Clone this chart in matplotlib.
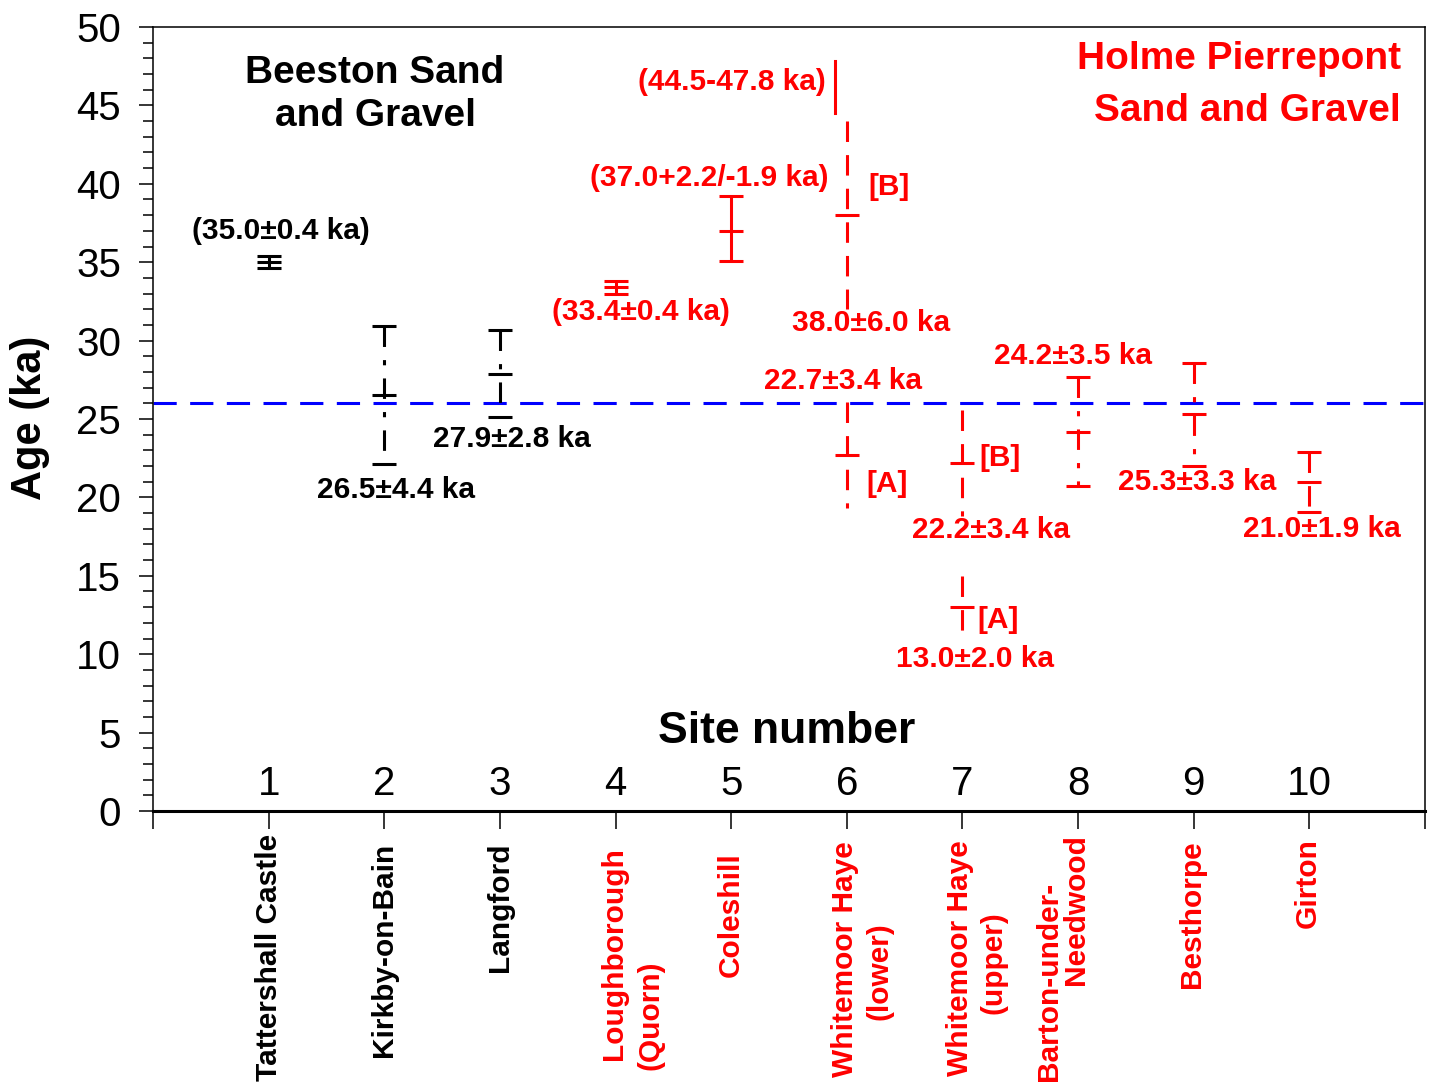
import matplotlib
matplotlib.use("Agg")
import matplotlib.pyplot as plt

plt.rcParams["font.family"] = ["Liberation Sans", "DejaVu Sans"]

# Sites along the x axis
sites = [1, 2, 3, 4, 5, 6, 7, 8, 9, 10]
site_names = ["Tattershall Castle", "Kirkby-on-Bain", "Langford", "Loughborough\n(Quorn)", "Coleshill",
              "Whitemoor Haye\n(lower)", "Whitemoor Haye\n(upper)", "Barton-under-\nNeedwood",
              "Besthorpe", "Girton"]
site_colors = ["black", "black", "black", "red", "red", "red", "red", "red", "red", "red"]

# Ages (ka) with lower / upper uncertainty
bar_site = [1, 2, 3, 4, 5, 6, 6, 7, 7, 8, 9, 10]
bar_age = [35.0, 26.5, 27.9, 33.4, 37.0, 38.0, 22.7, 22.2, 13.0, 24.2, 25.3, 21.0]
bar_err_lo = [0.4, 4.4, 2.8, 0.4, 1.9, 6.0, 3.4, 3.4, 2.0, 3.5, 3.3, 1.9]
bar_err_hi = [0.4, 4.4, 2.8, 0.4, 2.2, 6.0, 3.4, 3.4, 2.0, 3.5, 3.3, 1.9]
bar_tag = ["", "", "", "", "", "[B]", "[A]", "[B]", "[A]", "", "", ""]
bar_bracketed = [True, False, False, True, True, False, False, False, False, False, False, False]

# Age range given without central value (site 6)
range_site = 6
range_lo = 44.5
range_hi = 47.8

# Reference line
ref_age = 26.0

# Look of each bar
bar_caps = [True, True, True, True, True, False, False, False, False, True, True, True]
bar_ls = ["solid", "dashdot", "dashdot", "solid", "solid", "dashed", "dashed", "dashed", "dashed",
          "dashdot", "dashdot", "dashed"]
dash_styles = {"solid": "-", "dashdot": (0, (6.7, 4.3, 1.7, 4.3)), "dashed": (0, (6.7, 4.3))}
# label centres (x, y) in data units, tag left edges
label_xy = [(1.11, 37.0), (2.1, 20.5), (3.1, 23.7), (4.22, 31.8), (4.81, 40.4), (6.21, 31.1),
            (5.97, 27.4), (7.25, 17.9), (7.11, 9.7), (7.96, 29.0), (9.03, 21.0), (10.11, 18.0)]
tag_xy = {5: (6.19, 39.8), 6: (6.17, 20.85), 7: (7.15, 22.5), 8: (7.13, 12.2)}
# per-line placement of the site names: (dx px, top px)
name_layout = [[(0, 834)], [(0, 843)], [(0, 843)], [(-2, 847), (35, 961)], [(0, 852)],
               [(-2, 841), (33, 922)], [(-2, 840), (31, 911)], [(-29, 882), (-2, 834)],
               [(-2, 840)], [(-2, 838)]]

fig = plt.figure(figsize=(14.38, 10.9), dpi=100)
ax = fig.add_axes([153 / 1438, 279 / 1090, (1425 - 153) / 1438, (811 - 27) / 1090])

lw = 2.2
ax.axhline(ref_age, color="#0000ff", lw=lw, ls=(0, (7.6, 4.4)), zorder=1)

for i, x in enumerate(bar_site):
    col = site_colors[x - 1]
    lo = bar_age[i] - bar_err_lo[i]
    hi = bar_age[i] + bar_err_hi[i]
    ax.plot([x, x], [hi, lo], color=col, lw=lw, ls=dash_styles[bar_ls[i]], solid_capstyle="butt",
            dash_capstyle="butt", zorder=3)
    ax.plot([x], [bar_age[i]], color=col, marker="_", ms=17, mew=lw, zorder=3)
    if bar_caps[i]:
        ax.plot([x, x], [lo, hi], color=col, ls="none", marker="_", ms=17, mew=lw, zorder=3)
    if bar_err_lo[i] == bar_err_hi[i]:
        txt = f"{bar_age[i]:.1f}\u00b1{bar_err_lo[i]:.1f} ka"
    else:
        txt = f"{bar_age[i]:.1f}+{bar_err_hi[i]:.1f}/-{bar_err_lo[i]:.1f} ka"
    if bar_bracketed[i]:
        txt = "(" + txt + ")"
    ax.text(label_xy[i][0], label_xy[i][1], txt, color=col, fontsize=21.5, fontweight="bold",
            ha="center", va="center")
    if bar_tag[i]:
        ax.text(tag_xy[i][0], tag_xy[i][1], bar_tag[i], color=col, fontsize=21.5, fontweight="bold",
                ha="left", va="center")

# range-only determination
ax.plot([range_site - 0.1, range_site - 0.1], [range_lo, range_hi], color="red", lw=lw)
ax.text(5.82, 46.5, f"({range_lo:.1f}-{range_hi:.1f} ka)", color="red", fontsize=21.5,
        fontweight="bold", ha="right", va="center")

# group headings
ax.text(1.92, 45.7, "Beeston Sand\nand Gravel", fontsize=28, fontweight="bold", ha="center",
        va="center", linespacing=1.27)
ax.text(10.79, 46.3, "Holme Pierrepont\nSand and Gravel", fontsize=28, fontweight="bold",
        color="red", ha="right", va="center", linespacing=1.56)

# site numbers and axis title inside the frame
for x in sites:
    ax.text(x, 1.7, str(x), fontsize=29, ha="center", va="center")
ax.text(5.48, 5.1, "Site number", fontsize=32, fontweight="bold", ha="center", va="center")

# site names below the axis
for i, x in enumerate(sites):
    for line, (dx, top) in zip(site_names[i].split("\n"), name_layout[i]):
        ax.annotate(line, xy=(x, 0), xycoords=("data", "axes fraction"), xytext=(dx, -(top - 811)),
                    textcoords="offset pixels", rotation=90, ha="center", va="top",
                    fontsize=21.5, fontweight="bold", color=site_colors[i], annotation_clip=False)

ax.set_xlim(0, 11)
ax.set_ylim(0, 50)
ax.set_xticks(range(0, 12))
ax.set_xticklabels([])
ax.set_yticks(range(0, 51, 5))
ax.set_yticks(range(0, 51), minor=True)
ax.tick_params(axis="y", which="major", direction="out", length=10, width=1.1, labelsize=29, pad=13)
ax.tick_params(axis="y", which="minor", direction="out", length=7, width=1.1)
ax.tick_params(axis="x", which="major", direction="out", length=13, width=1.1)
for side in ["left", "top", "right"]:
    ax.spines[side].set_linewidth(1.1)
ax.spines["bottom"].set_linewidth(2.2)

fig.text(30 / 1438, 1 - 418 / 1090, "Age (ka)", rotation=90, fontsize=30, fontweight="bold",
         ha="center", va="center")

fig.savefig("out.png", dpi=100)
